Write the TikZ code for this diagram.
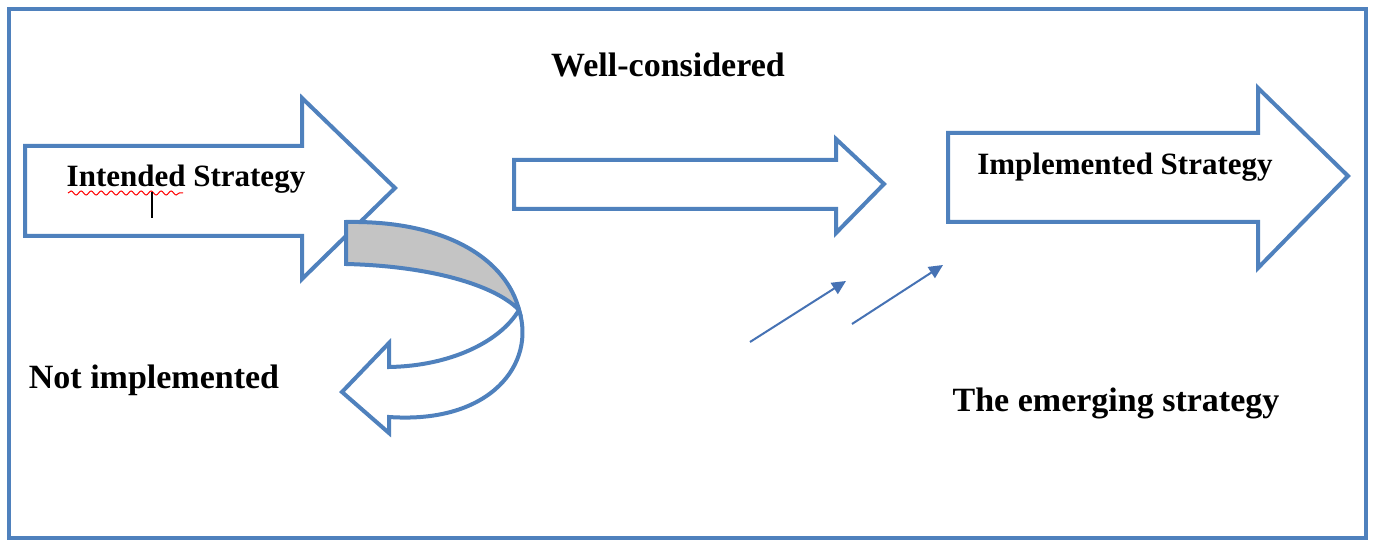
\documentclass[tikz,border=0pt]{standalone}
\usepackage{fontspec}
\setmainfont{Liberation Serif}
\usetikzlibrary{arrows.meta,decorations.pathmorphing}
\definecolor{ablue}{RGB}{79,129,189}
\definecolor{sblue}{RGB}{70,114,180}
\definecolor{bandgray}{RGB}{196,196,196}
\tikzset{
 bigarrow/.style={draw=ablue, line width=2pt, fill=white, line join=miter},
 lbl/.style={font=\fontsize{17}{20}\selectfont\bfseries, inner sep=0pt, anchor=base},
 lblsmall/.style={lbl, font=\fontsize{15.5}{18}\selectfont\bfseries},
 thinarrow/.style={draw=sblue, line width=1pt, -{Triangle[length=7pt,width=6.5pt]}}
}
\begin{document}
\begin{tikzpicture}[x=0.5pt,y=-0.5pt]
\useasboundingbox (0,0) rectangle (1373,545);
\fill[white] (0,0) rectangle (1373,545);
\draw[ablue, line width=2pt] (9,9) rectangle (1366,538);
% intended strategy arrow
\draw[bigarrow] (25,146) -- (302,146) -- (302,98) -- (395,188) -- (302,279) -- (302,236) -- (25,236) -- cycle;
% well-considered arrow
\draw[bigarrow] (514,160) -- (836,160) -- (836,139) -- (884,184) -- (836,233) -- (836,209) -- (514,209) -- cycle;
% implemented strategy arrow
\draw[bigarrow] (948,133) -- (1258,133) -- (1258,88) -- (1348,176) -- (1258,268) -- (1258,222) -- (948,222) -- cycle;
% curved arrow: back (gray) part
\draw[bigarrow, fill=bandgray] (346,222) .. controls (450.4,220.2) and (507.2,262.1) .. (519,310)
  .. controls (495,285) and (430,266) .. (346,264) -- cycle;
% curved arrow: front part with head
\draw[bigarrow] (519,310) .. controls (536,363.2) and (491.3,424.15) .. (389,417) -- (389,433) -- (342,392)
  -- (389,343) -- (389,367) .. controls (450,366) and (500,342) .. (519,310) -- cycle;
% labels
\node[lbl] (wc) at (668,77) {Well-considered};
\node[lblsmall] (is) at (186,187) {Intended Strategy};
\node[lblsmall] (ims) at (1125,175) {Implemented Strategy};
\node[lbl] (ni) at (154,389) {Not implemented};
\node[lbl] (es) at (1116,412) {The emerging strategy};
% editor artefacts
\draw[red, line width=0.5pt, decoration={snake, amplitude=1pt, segment length=5pt}, decorate] (68,193) -- (183,193);
\draw[black, line width=1pt] (152,192) -- (152,218);
% emerging arrows
\coordinate (e1s) at (750,342);
\coordinate (e1t) at (846,281);
\coordinate (e2s) at (852,324);
\coordinate (e2t) at (943,265);
\draw[thinarrow] (e1s) -- (e1t);
\draw[thinarrow] (e2s) -- (e2t);
\end{tikzpicture}
\end{document}
